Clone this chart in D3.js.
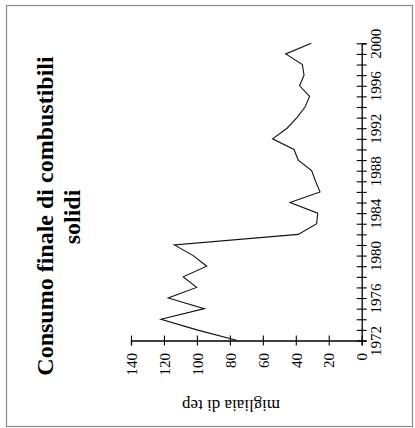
<!DOCTYPE html>
<html><head><meta charset="utf-8">
<script src="https://cdn.jsdelivr.net/npm/d3@7"></script>
<style>
html,body{margin:0;padding:0;background:#fff;}
svg{display:block;font-family:"Liberation Serif","Times New Roman",serif;}
</style></head>
<body>
<svg id="chart" width="415" height="428"></svg>
<script>
const years = d3.range(1972, 2001);
const values = [75.5, 100, 121.8, 95.5, 117.4, 100.2, 108.3, 94.1, 102.2, 113.7,
                38.5, 27.3, 26.7, 43.5, 25.3, 28, 30.4, 38.5, 41.1, 54.1,
                45.3, 39.3, 34.4, 31.6, 37.7, 35, 36, 46.1, 30.6];
const valueTicks = [0, 20, 40, 60, 80, 100, 120, 140];
const yearLabels = [1972, 1976, 1980, 1984, 1988, 1992, 1996, 2000];
const titleLines = ["Consumo finale di combustibili", "solidi"];
const axisTitle = "migliaia di tep";
const serif = "Liberation Serif, Times New Roman, serif";

const svg = d3.select("#chart");
svg.append("rect").attr("x", 6.5).attr("y", 5.5).attr("width", 406).attr("height", 421)
  .attr("fill", "none").attr("stroke", "#8a8a8a").attr("stroke-width", 1.2);

// rotated layout: years run vertically, values horizontally (0 at right)
const yYear = d3.scaleLinear().domain([1972, 2000]).range([340.5, 43.3]);
const xVal = d3.scaleLinear().domain([0, 140]).range([361.7, 131]);

// value axis (bottom)
const gv = svg.append("g").attr("transform", "translate(0,340.5)")
  .call(d3.axisBottom(xVal).tickValues(valueTicks).tickSizeOuter(0).tickSize(5));
gv.select(".domain").attr("stroke", "#000").attr("stroke-width", 1.3);
gv.selectAll(".tick line").attr("y1", -5).attr("y2", 5).attr("stroke", "#000").attr("stroke-width", 1.1);
gv.selectAll(".tick text")
  .attr("transform", "translate(0,12.5) rotate(-90)")
  .attr("x", 0).attr("y", 0).attr("dy", "0.35em")
  .attr("text-anchor", "end")
  .attr("font-size", 15).attr("font-family", serif).attr("fill", "#000");

// year axis (right)
const gy = svg.append("g").attr("transform", "translate(361.7,0)")
  .call(d3.axisRight(yYear).tickValues(years).tickSizeOuter(0).tickSize(5)
    .tickFormat(d => yearLabels.includes(d) ? String(d) : ""));
gy.select(".domain").attr("stroke", "#000").attr("stroke-width", 1.3);
gy.selectAll(".tick line").attr("x1", -5).attr("x2", 5).attr("stroke", "#000").attr("stroke-width", 1.1);
gy.selectAll(".tick text")
  .attr("transform", "translate(14,0) rotate(-90)")
  .attr("x", 0).attr("y", 0).attr("dy", "0.35em")
  .attr("text-anchor", "middle")
  .attr("font-size", 15).attr("font-family", serif).attr("fill", "#000");

// data line
const line = d3.line().x((d, i) => xVal(d)).y((d, i) => yYear(years[i]));
svg.append("path").datum(values).attr("d", line)
  .attr("fill", "none").attr("stroke", "#111").attr("stroke-width", 1.1);

// title
svg.append("text").attr("transform", "translate(53,216) rotate(-90)")
  .attr("text-anchor", "middle").attr("font-weight", "bold").attr("font-size", 24)
  .attr("font-family", serif).text(titleLines[0]);
svg.append("text").attr("transform", "translate(80,217) rotate(-90)")
  .attr("text-anchor", "middle").attr("font-weight", "bold").attr("font-size", 24)
  .attr("font-family", serif).text(titleLines[1]);

// axis title (upside down)
svg.append("text").attr("transform", "translate(231,406) rotate(180)")
  .attr("text-anchor", "middle").attr("dy", "0.35em").attr("font-size", 17)
  .attr("font-family", serif).text(axisTitle);
</script>
</body></html>
